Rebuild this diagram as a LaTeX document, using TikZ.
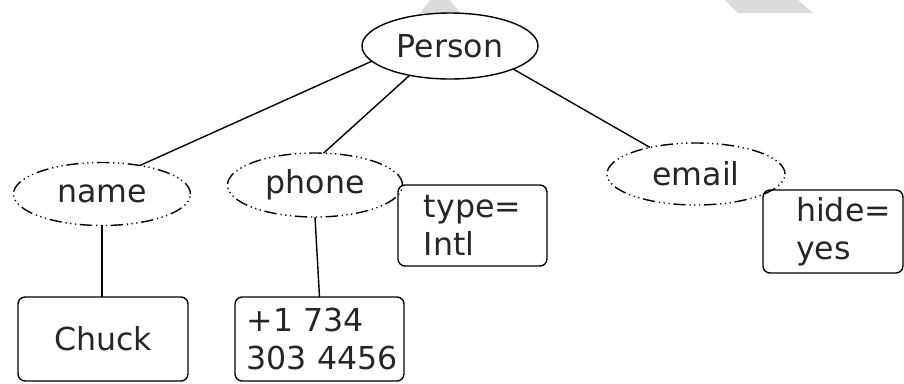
\documentclass[tikz,border=0pt]{standalone}
\usepackage{fontspec}
\setmainfont{DejaVu Sans}
\usetikzlibrary{shapes.geometric}
\tikzset{attr/.style={ellipse,draw,line width=0.8pt,inner sep=0,outer sep=0,
    dash pattern=on 7pt off 2.2pt on 0.7pt off 2pt on 0.7pt off 2pt on 0.7pt off 2.2pt},
  valbox/.style={rectangle,draw,line width=0.8pt,rounded corners=4pt,align=left,inner sep=0,outer sep=0},
  edge/.style={line width=0.8pt}}

\begin{document}
\begin{tikzpicture}[x=0.02cm,y=-0.02cm,font=\fontsize{18}{21.6}\selectfont,text=black!85]
 \useasboundingbox (0,0) rectangle (904,383);
 \fill[gray!28] (420,13) -- (430,0) -- (450,0) -- (460,13) -- cycle;
 \fill[gray!28] (725,0) -- (798,0) -- (813,13) -- (738,13) -- cycle;
 \node[ellipse,draw,fill=white,line width=0.8pt,inner sep=0,outer sep=0,
   minimum width=3.52cm,minimum height=1.32cm] (person) at (450,46) {Person};
 \node[attr,minimum width=3.54cm,minimum height=1.26cm] (name) at (102,194) {name};
 \node[attr,minimum width=3.5cm,minimum height=1.28cm] (phone) at (315,185) {phone};
 \node[attr,minimum width=3.56cm,minimum height=1.24cm] (email) at (696,174) {email};
 \node[valbox,minimum width=3.4cm,minimum height=1.68cm] (chuck) at (103,339) {Chuck};
 \node[valbox,minimum width=3.38cm,minimum height=1.68cm] (number) at (319.5,339) {\hspace*{3pt}+1 734\\\hspace*{3pt}303 4456};
 \node[valbox,minimum width=2.98cm,minimum height=1.62cm] (type) at (472.5,225.5) {type=\\Intl};
 \node[valbox,minimum width=2.8cm,minimum height=1.66cm] (hide) at (833,231.5) {\hspace*{12pt}hide=\\\hspace*{12pt}yes};
 \draw[edge] (person.191) -- (name.37);
 \draw[edge] (person.216) -- (phone.75);
 \draw[edge] (person.340) -- (email.150);
 \draw[edge] (name.south) -- (name.south |- chuck.north);
 \draw[edge] (phone.south) -- (number.north);
\end{tikzpicture}
\end{document}
